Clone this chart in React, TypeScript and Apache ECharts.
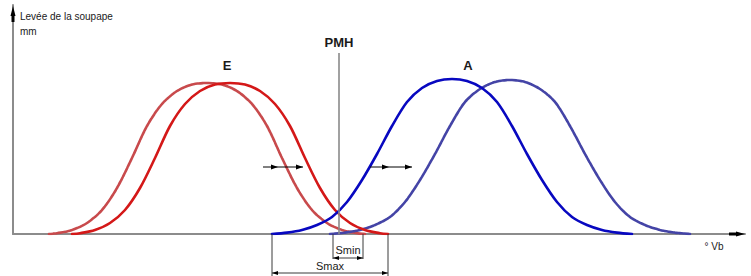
import React, { useEffect, useRef } from "react";
import * as echarts from "echarts";

// Crank angle (°, PMH = 0) and valve lift (mm)
const exhaustShiftedDeg = [-290, -282, -267, -252, -237, -222, -207, -192, -177, -162, -147, -132, -117, -102, -87, -72, -57, -42, -27, -12, 3, 18, 26];
const exhaustDeg = [-267, -259, -244, -229, -214, -199, -184, -169, -154, -139, -124, -109, -94, -79, -64, -49, -34, -19, -4, 11, 26, 41, 49];
const exhaustLift = [0, 0.04, 0.2, 0.55, 1.2, 2.3, 3.8, 5.4, 6.5, 7.15, 7.47, 7.55, 7.47, 7.15, 6.5, 5.4, 3.8, 2.3, 1.2, 0.55, 0.2, 0.04, 0];

const intakeDeg = [-67, -52, -37, -22, -7, 8, 23, 38, 53, 68, 83, 98, 113, 128, 143, 158, 173, 188, 203, 218, 233, 248, 263, 278, 293];
const intakeLift = [0, 0.07, 0.2, 0.45, 0.85, 1.6, 2.7, 4.0, 5.4, 6.6, 7.3, 7.65, 7.75, 7.65, 7.3, 6.6, 5.4, 4.0, 2.7, 1.6, 0.85, 0.45, 0.2, 0.07, 0];
const intakeShiftedDeg = [-9, 6, 21, 36, 51, 66, 81, 96, 111, 126, 141, 156, 171, 186, 201, 216, 231, 246, 261, 276, 291, 306, 321, 336, 351];
const intakeShiftedLift = [0, 0.07, 0.2, 0.45, 0.85, 1.6, 2.7, 4.0, 5.4, 6.6, 7.25, 7.6, 7.7, 7.6, 7.25, 6.6, 5.4, 4.0, 2.7, 1.6, 0.85, 0.45, 0.2, 0.07, 0];

const axisTitleY = ["Levée de la soupape", "mm"];
const axisTitleX = "° Vb";
const curveLabels = { pmh: "PMH", exhaust: "E", intake: "A" };
const sMin = { label: "Smin", from: -6, to: 24 };
const sMax = { label: "Smax", from: -67, to: 49 };

const X_MIN = -326;
const X_MAX = 406;
const Y_MAX = 11.45;
const FONT = '"Liberation Sans", Arial, sans-serif';

const zip = (xs: number[], ys: number[]) => xs.map((x, i) => [x, ys[i]]);

export default function App() {
  const ref = useRef<HTMLDivElement>(null);
  useEffect(() => {
    const chart = echarts.init(ref.current!, null, { renderer: "svg" });
    const line = (name: string, data: number[][], color: string, textured: boolean, z: number) => ({
      type: "line",
      name,
      data,
      smooth: 0.3,
      showSymbol: false,
      symbol: "none",
      z,
      lineStyle: { color, width: 2.6, type: textured ? [4, 1] : "solid", cap: "round" },
    });
    const axisBase = {
      type: "value",
      axisLine: { show: true, onZero: false, lineStyle: { color: "#8c8c8c", width: 2 } },
      axisTick: { show: false },
      axisLabel: { show: false },
      splitLine: { show: false },
    };
    chart.setOption({
      animation: false,
      backgroundColor: "#ffffff",
      grid: { left: 13, right: 6, top: 5, bottom: 42 },
      xAxis: { ...axisBase, min: X_MIN, max: X_MAX },
      yAxis: { ...axisBase, min: 0, max: Y_MAX },
      series: [
        line("E'", zip(exhaustShiftedDeg, exhaustLift), "#c84a4c", true, 2),
        line("E", zip(exhaustDeg, exhaustLift), "#d41818", false, 3),
        line("A'", zip(intakeShiftedDeg, intakeShiftedLift), "#4444a6", true, 2),
        line("A", zip(intakeDeg, intakeLift), "#0808c0", false, 3),
      ],
    });

    const P = (x: number, y: number) => chart.convertToPixel({ gridIndex: 0 }, [x, y]) as number[];
    const g: any[] = [];
    const seg = (a: number[], b: number[], stroke: string, w: number) =>
      g.push({ type: "line", z: 10, shape: { x1: a[0], y1: a[1], x2: b[0], y2: b[1] }, style: { stroke, lineWidth: w } });
    const txt = (p: number[], text: string, size: number, bold: boolean, align = "center") =>
      g.push({
        type: "text", z: 11, x: p[0], y: p[1],
        style: { text, font: `${bold ? "bold " : ""}${size}px ${FONT}`, fill: "#1a1a1a", textAlign: align, textVerticalAlign: "middle" },
      });
    const headH = (tip: number[], dir: number, len: number, half: number, fill = "#000") =>
      g.push({ type: "polygon", z: 11, shape: { points: [[tip[0], tip[1]], [tip[0] - dir * len, tip[1] - half], [tip[0] - dir * len, tip[1] + half]] }, style: { fill } });

    // axis arrow heads
    const yTop = P(X_MIN, Y_MAX);
    g.push({ type: "polygon", z: 11, shape: { points: [[yTop[0], yTop[1] + 1], [yTop[0] + 2.5, yTop[1] + 11], [yTop[0] - 2.5, yTop[1] + 11]] }, style: { fill: "#000" } });
    g.push({ type: "rect", z: 11, shape: { x: yTop[0] - 1.5, y: yTop[1] + 10, width: 3, height: 7 }, style: { fill: "#000" } });
    const xEnd = P(X_MAX, 0);
    headH([xEnd[0], xEnd[1]], 1, 9, 2.5);
    g.push({ type: "rect", z: 11, shape: { x: xEnd[0] - 16, y: xEnd[1] - 1.5, width: 8, height: 3 }, style: { fill: "#000" } });

    // axis titles
    txt([yTop[0] + 7, yTop[1] + 11], axisTitleY[0], 10, false, "left");
    txt([yTop[0] + 7, yTop[1] + 26], axisTitleY[1], 10, false, "left");
    txt([xEnd[0] - 31, xEnd[1] + 12], axisTitleX, 10, false, "center");

    // PMH line and curve names
    seg(P(0, 0), P(0, 9.05), "#8a8a8a", 1.6);
    txt(P(0, 9.6), curveLabels.pmh, 13, true);
    txt(P(-112, 8.45), curveLabels.exhaust, 13, true);
    txt(P(129, 8.45), curveLabels.intake, 13, true);

    // shift arrows
    const ay = 3.35;
    seg(P(-76, ay), P(-36, ay), "#000", 1);
    headH(P(-61, ay), 1, 7, 2.5);
    headH(P(-36, ay), 1, 7, 2.5);
    seg(P(31, ay), P(73, ay), "#000", 1);
    headH(P(50, ay), 1, 7, 2.5);
    headH(P(73, ay), 1, 7, 2.5);

    // dimension lines
    const dim = (d: { label: string; from: number; to: number }, yLine: number, yExt: number, yText: number) => {
      seg(P(d.from, 0), P(d.from, yExt), "#3a3a3a", 1);
      seg(P(d.to, 0), P(d.to, yExt), "#3a3a3a", 1);
      seg(P(d.from, yLine), P(d.to, yLine), "#3a3a3a", 1);
      headH(P(d.from, yLine), -1, 6, 2);
      headH(P(d.to, yLine), 1, 6, 2);
      txt(P((d.from + d.to) / 2, yText), d.label, 11, false);
    };
    dim(sMin, -1.2, -1.25, -0.8);
    dim(sMax, -1.95, -2.1, -1.6);

    chart.setOption({ graphic: g });
    return () => chart.dispose();
  }, []);
  return <div ref={ref} style={{ position: "absolute", left: 0, top: 0, width: 751, height: 276 }} />;
}
